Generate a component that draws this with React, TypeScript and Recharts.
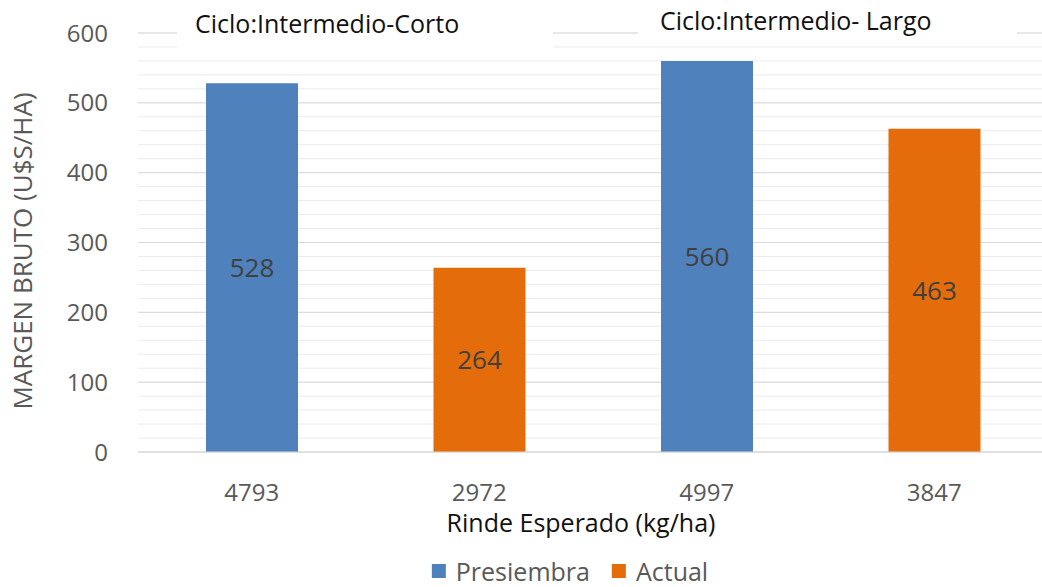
import React from 'react';
import { BarChart, Bar, XAxis, YAxis, CartesianGrid, LabelList } from 'recharts';

const categories = ['4793', '2972', '4997', '3847'];
const presiembra = [528, null, 560, null];
const actual = [null, 264, null, 463];
const majorTicks = [0, 100, 200, 300, 400, 500, 600];
const minorTicks = [0, 20, 40, 60, 80, 100, 120, 140, 160, 180, 200, 220, 240, 260, 280, 300, 320, 340, 360, 380, 400, 420, 440, 460, 480, 500, 520, 540, 560, 580, 600];
const cycleLabels = ['Ciclo:Intermedio-Corto', 'Ciclo:Intermedio- Largo'];

const BLUE = '#4F81BD';
const ORANGE = '#E46C0A';
const FONT = '"Open Sans", sans-serif';
const Y_MAX = 600;

const data = categories.map((c, i) => ({ rinde: c, presiembra: presiembra[i], actual: actual[i] }));

const fmt = (v: any) => (v == null || v === 0 ? '' : v);

// light minor gridlines every 20
const minorLines = ({ yAxis, offset }: any) => {
  if (yAxis && typeof yAxis.scale === 'function') return minorTicks.map((v) => yAxis.scale(v));
  if (!offset) return [];
  return minorTicks.map((v) => offset.top + offset.height * (1 - v / Y_MAX));
};

export default function App() {
  return (
    <div style={{ position: 'absolute', left: 0, top: 0, width: 1042, height: 587, overflow: 'hidden', background: '#fff', fontFamily: FONT }}>
      <BarChart width={1048} height={587} data={data} margin={{ top: 33, right: 0, left: 0, bottom: 0 }}>
        <CartesianGrid vertical={false} stroke="#EBEBEB" horizontalCoordinatesGenerator={minorLines} />
        <CartesianGrid vertical={false} stroke="#D9D9D9" />
        <XAxis
          dataKey="rinde"
          height={135}
          tickLine={false}
          axisLine={{ stroke: '#D9D9D9' }}
          tickMargin={26}
          tick={{ fill: '#595959', fontSize: 24, fontFamily: FONT }}
        />
        <YAxis
          width={138}
          domain={[0, Y_MAX]}
          ticks={majorTicks}
          tickLine={false}
          axisLine={false}
          tickMargin={24}
          tick={{ fill: '#595959', fontSize: 24, fontFamily: FONT }}
        />
        <Bar dataKey="presiembra" stackId="a" fill={BLUE} barSize={92} isAnimationActive={false}>
          <LabelList dataKey="presiembra" position="center" formatter={fmt} fill="#404040" fontSize={26} fontFamily={FONT} />
        </Bar>
        <Bar dataKey="actual" stackId="a" fill={ORANGE} barSize={92} isAnimationActive={false}>
          <LabelList dataKey="actual" position="center" formatter={fmt} fill="#404040" fontSize={26} fontFamily={FONT} />
        </Bar>
      </BarChart>

      {/* cycle annotations (white boxes cover the gridlines, like the original) */}
      <div style={{ position: 'absolute', left: 177, top: 8, width: 376, height: 44, background: '#fff', boxSizing: 'border-box', paddingLeft: 18, fontSize: 25, color: '#111', lineHeight: '30px' }}>
        {cycleLabels[0]}
      </div>
      <div style={{ position: 'absolute', left: 638, top: 0, width: 379, height: 41, background: '#fff', boxSizing: 'border-box', paddingLeft: 22, paddingTop: 5, fontSize: 25, color: '#111', lineHeight: '30px' }}>
        {cycleLabels[1]}
      </div>

      {/* y axis title */}
      <div style={{ position: 'absolute', left: 22, top: 251, transform: 'translate(-50%, -50%) rotate(-90deg)', whiteSpace: 'nowrap', fontSize: 26, lineHeight: '30px', color: '#595959' }}>
        MARGEN BRUTO (U$S/HA)
      </div>

      {/* x axis title */}
      <div style={{ position: 'absolute', left: 581, top: 522, transform: 'translate(-50%, -50%)', whiteSpace: 'nowrap', fontSize: 25, lineHeight: '28px', color: '#111' }}>
        Rinde Esperado (kg/ha)
      </div>

      {/* legend */}
      <div style={{ position: 'absolute', left: 570, top: 571, transform: 'translate(-50%, -50%)', display: 'flex', alignItems: 'center', whiteSpace: 'nowrap', fontSize: 25, lineHeight: '24px', color: '#595959' }}>
        <span style={{ display: 'inline-block', width: 14, height: 14, background: BLUE, marginRight: 10 }} />
        <span style={{ marginRight: 22 }}>Presiembra</span>
        <span style={{ display: 'inline-block', width: 14, height: 14, background: ORANGE, marginRight: 10 }} />
        <span>Actual</span>
      </div>
    </div>
  );
}
